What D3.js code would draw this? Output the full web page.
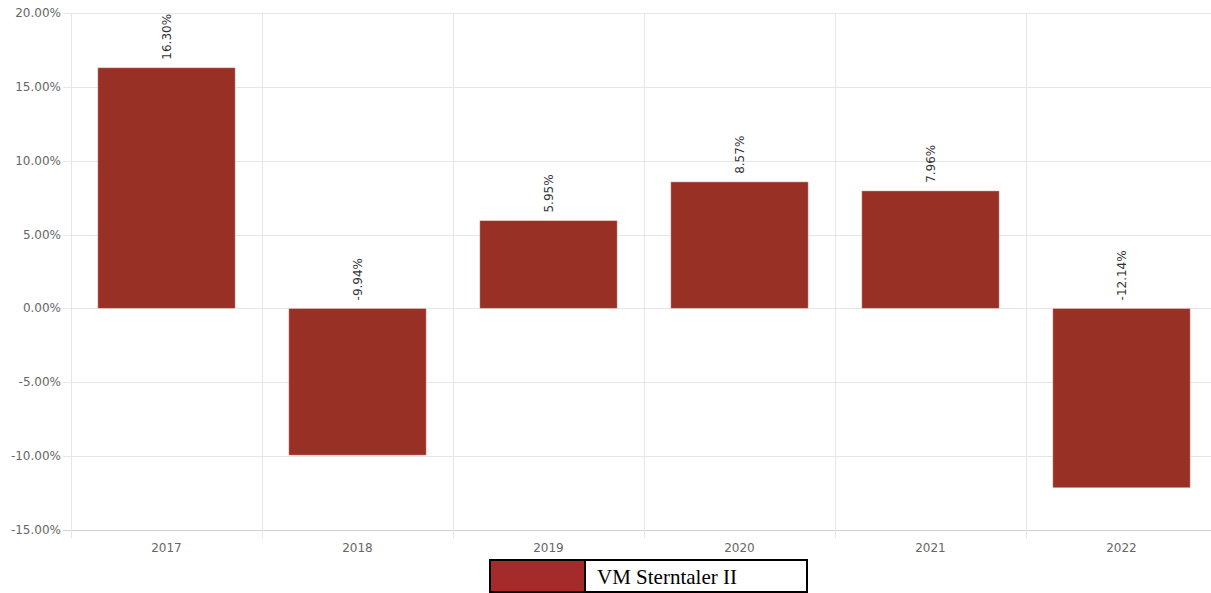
<!DOCTYPE html>
<html>
<head>
<meta charset="utf-8">
<script src="https://cdn.jsdelivr.net/npm/d3@7"></script>
<style>
  body { margin: 0; background: #fff; }
  svg { display: block; }
</style>
</head>
<body>
<svg id="chart" width="1211" height="593"></svg>
<script>
var years = ['2017', '2018', '2019', '2020', '2021', '2022'];
var returns = [16.30, -9.94, 5.95, 8.57, 7.96, -12.14];
var yTicks = [20, 15, 10, 5, 0, -5, -10, -15];
var seriesName = 'VM Sterntaler II';

(function () {
	var svg = d3.select('#chart'),
		plotLeft = 71,
		plotRight = 1217,
		plotTop = 13,
		plotBottom = 530;

	var x = d3.scaleBand()
		.domain(years)
		.range([plotLeft, plotRight])
		.paddingInner(0.28)
		.paddingOuter(0.14);

	var y = d3.scaleLinear()
		.domain([-15, 20])
		.range([plotBottom, plotTop]);

	// horizontal grid
	svg.append('g')
		.selectAll('line')
		.data(yTicks)
		.enter()
		.append('line')
		.attr('x1', plotLeft - 8)
		.attr('x2', plotRight)
		.attr('y1', function (d) { return Math.round(y(d)) + 0.5; })
		.attr('y2', function (d) { return Math.round(y(d)) + 0.5; })
		.attr('stroke', function (d) { return d === -15 ? '#d0d0d0' : '#e6e6e6'; });

	// vertical grid between categories
	var step = x.step();
	var vlines = d3.range(years.length + 1).map(function (i) { return plotLeft + i * step; });
	svg.append('g')
		.selectAll('line')
		.data(vlines)
		.enter()
		.append('line')
		.attr('x1', function (d) { return Math.round(d) + 0.5; })
		.attr('x2', function (d) { return Math.round(d) + 0.5; })
		.attr('y1', plotTop)
		.attr('y2', plotBottom + 8)
		.attr('stroke', '#e6e6e6');

	// y labels
	svg.append('g')
		.selectAll('text')
		.data(yTicks)
		.enter()
		.append('text')
		.attr('x', plotLeft - 10)
		.attr('y', function (d) { return y(d) + 4; })
		.attr('text-anchor', 'end')
		.attr('font-family', 'DejaVu Sans, sans-serif')
		.attr('font-size', 12)
		.attr('fill', '#666')
		.text(function (d) { return d.toFixed(2) + '%'; });

	// x labels
	svg.append('g')
		.selectAll('text')
		.data(years)
		.enter()
		.append('text')
		.attr('x', function (d) { return x(d) + x.bandwidth() / 2; })
		.attr('y', plotBottom + 22)
		.attr('text-anchor', 'middle')
		.attr('font-family', 'DejaVu Sans, sans-serif')
		.attr('font-size', 12)
		.attr('fill', '#666')
		.text(function (d) { return d; });

	// bars
	svg.append('g')
		.selectAll('rect')
		.data(returns)
		.enter()
		.append('rect')
		.attr('x', function (d, i) { return x(years[i]); })
		.attr('width', x.bandwidth())
		.attr('y', function (d) { return y(Math.max(0, d)); })
		.attr('height', function (d) { return Math.abs(y(d) - y(0)); })
		.attr('fill', '#993026')
		.attr('stroke', '#fff')
		.attr('stroke-opacity', 0.4)
		.attr('stroke-width', 1);

	// value labels
	svg.append('g')
		.selectAll('text')
		.data(returns)
		.enter()
		.append('text')
		.attr('transform', function (d, i) {
			var cx = x(years[i]) + x.bandwidth() / 2 + 4;
			var cy = y(Math.max(0, d)) - 8;
			return 'translate(' + cx + ',' + cy + ') rotate(-90)';
		})
		.attr('font-family', 'DejaVu Sans, sans-serif')
		.attr('font-size', 12)
		.attr('fill', '#333')
		.text(function (d) { return d.toFixed(2) + '%'; });

	// legend
	var lg = svg.append('g').attr('transform', 'translate(490,560)');
	lg.append('rect')
		.attr('width', 95).attr('height', 32)
		.attr('fill', '#a52a2a')
		.attr('stroke', '#000').attr('stroke-width', 2);
	lg.append('rect')
		.attr('x', 95).attr('width', 222).attr('height', 32)
		.attr('fill', '#fff')
		.attr('stroke', '#000').attr('stroke-width', 2);
	lg.append('text')
		.attr('x', 107).attr('y', 24)
		.attr('font-family', 'Liberation Serif, Times New Roman, serif')
		.attr('font-size', 21)
		.attr('fill', '#000')
		.text(seriesName);
})();
</script>
</body>
</html>
